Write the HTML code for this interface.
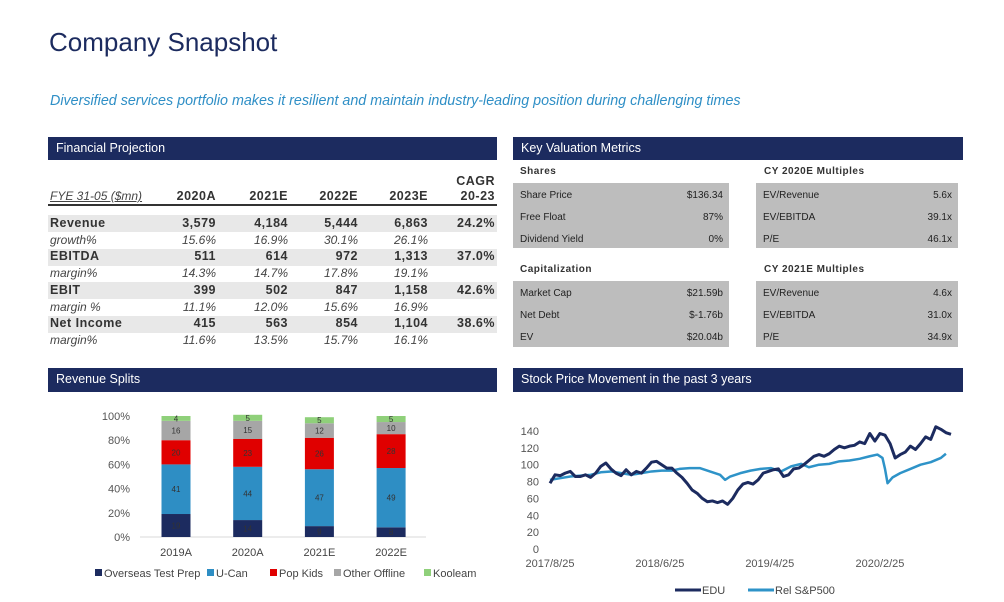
<!DOCTYPE html>
<html><head><meta charset="utf-8">
<style>
body{margin:0;width:1004px;height:602px;background:#fff;position:relative;overflow:hidden;font-family:"Liberation Sans",sans-serif;color:#333}
.a{position:absolute;white-space:nowrap}
.bar{position:absolute;background:#1c2b5f;color:#fff;font-size:12.5px;line-height:23px;padding-left:8px;box-sizing:border-box}
.r{text-align:right}
.gb{position:absolute;background:#e8e8e8}
.num{font-weight:bold;font-size:12.5px;letter-spacing:.5px}
.it{font-style:italic;font-size:12px;color:#444}
.vbox{position:absolute;background:#bdbdbd}
.vt{font-size:10px;color:#222}
</style></head><body>
<div class="a" style="left:49px;top:27px;font-size:26px;color:#1c2b5f">Company Snapshot</div>
<div class="a" style="left:50px;top:93px;font-size:14.3px;font-style:italic;color:#2f8fc6">Diversified services portfolio makes it resilient and maintain industry-leading position during challenging times</div>

<div class="bar" style="left:48px;top:137px;width:449px;height:23px">Financial Projection</div>
<div class="bar" style="left:513px;top:137px;width:450px;height:23px">Key Valuation Metrics</div>
<div class="bar" style="left:48px;top:368px;width:449px;height:24px">Revenue Splits</div>
<div class="bar" style="left:513px;top:368px;width:450px;height:24px">Stock Price Movement in the past 3 years</div>

<div>
<div class="gb" style="left:48px;top:215px;width:449px;height:17px"></div>
<div class="gb" style="left:48px;top:249px;width:449px;height:17px"></div>
<div class="gb" style="left:48px;top:282px;width:449px;height:17px"></div>
<div class="gb" style="left:48px;top:316px;width:449px;height:17px"></div>
<div class="a" style="left:48px;top:204px;width:449px;height:2px;background:#333"></div>
<div class="a it" style="left:50px;top:189px;text-decoration:underline;font-size:12px">FYE 31-05 ($mn)</div>
<div class="a num r" style="right:788px;top:189px">2020A</div>
<div class="a num r" style="right:716px;top:189px">2021E</div>
<div class="a num r" style="right:646px;top:189px">2022E</div>
<div class="a num r" style="right:576px;top:189px">2023E</div>
<div class="a num r" style="right:509px;top:174px;line-height:15px;text-align:right">CAGR<br>20-23</div>
</div>
<div id="rows"></div>

<div>
<div class="a num" style="left:520px;top:166px;font-size:10px">Shares</div>
<div class="a num" style="left:764px;top:166px;font-size:10px">CY 2020E Multiples</div>
<div class="a num" style="left:520px;top:264px;font-size:10px">Capitalization</div>
<div class="a num" style="left:764px;top:264px;font-size:10px">CY 2021E Multiples</div>
<div class="vbox" style="left:513px;top:183px;width:216px;height:65px"></div>
<div class="vbox" style="left:756px;top:183px;width:202px;height:65px"></div>
<div class="vbox" style="left:513px;top:281px;width:216px;height:66px"></div>
<div class="vbox" style="left:756px;top:281px;width:202px;height:66px"></div>
</div>
<div id="vals"></div>

<svg id="bars" width="1004" height="602" style="position:absolute;left:0;top:0" font-family="Liberation Sans, sans-serif"></svg>
<svg id="lines" width="1004" height="602" style="position:absolute;left:0;top:0" font-family="Liberation Sans, sans-serif"></svg>

<script>
// ---- table ----
const rowLabels=["Revenue","growth%","EBITDA","margin%","EBIT","margin %","Net Income","margin%"];
const rowVals=[["3,579","4,184","5,444","6,863","24.2%"],["15.6%","16.9%","30.1%","26.1%",""],["511","614","972","1,313","37.0%"],["14.3%","14.7%","17.8%","19.1%",""],["399","502","847","1,158","42.6%"],["11.1%","12.0%","15.6%","16.9%",""],["415","563","854","1,104","38.6%"],["11.6%","13.5%","15.7%","16.1%",""]];
const colRight=[216,288,358,428,495];
let rh='';
rowLabels.forEach((l,i)=>{
  const top=216+i*16.7, cls=i%2?'it':'num';
  rh+=`<div class="a ${cls}" style="left:50px;top:${top}px">${l}</div>`;
  rowVals[i].forEach((v,j)=>{ if(v) rh+=`<div class="a ${cls} r" style="right:${1004-colRight[j]}px;top:${top}px">${v}</div>`;});
});
document.getElementById('rows').innerHTML=rh;
// ---- valuation ----
const valBlocks=[[520,723,183,[["Share Price","$136.34"],["Free Float","87%"],["Dividend Yield","0%"]]],[763,952,183,[["EV/Revenue","5.6x"],["EV/EBITDA","39.1x"],["P/E","46.1x"]]],[520,723,281,[["Market Cap","$21.59b"],["Net Debt","$-1.76b"],["EV","$20.04b"]]],[763,952,281,[["EV/Revenue","4.6x"],["EV/EBITDA","31.0x"],["P/E","34.9x"]]]];
let vh='';
valBlocks.forEach(b=>b[3].forEach((r,i)=>{const t=b[2]+7+i*22;
 vh+=`<div class="a vt" style="left:${b[0]}px;top:${t}px">${r[0]}</div><div class="a vt r" style="right:${1004-b[1]}px;top:${t}px">${r[1]}</div>`;}));
document.getElementById('vals').innerHTML=vh;

// ---- bar chart ----
const categories=["2019A","2020A","2021E","2022E"];
const seriesNames=["Overseas Test Prep","U-Can","Pop Kids","Other Offline","Kooleam"];
const overseas=[19,14,9,8];
const ucan=[41,44,47,49];
const popkids=[20,23,26,28];
const other=[16,15,12,10];
const kooleam=[4,5,5,5];
const yTicks=["0%","20%","40%","60%","80%","100%"];
const colors=["#1c2b5f","#2e8ec4","#e00000","#a6a6a6","#8fd07a"];
const NS='http://www.w3.org/2000/svg';
function mk(p,t,a){const e=document.createElementNS(NS,t);for(const k in a)e.setAttribute(k,a[k]);p.appendChild(e);return e;}
const bs=document.getElementById('bars');
const by=v=>537-v*1.21, bx=i=>176+i*71.7;
yTicks.forEach((t,i)=>{const e=mk(bs,'text',{x:130,y:by(i*20)+4,'text-anchor':'end','font-size':11,fill:'#555'});e.textContent=t;

});
mk(bs,'line',{x1:140,x2:426,y1:537,y2:537,stroke:'#d9d9d9'});
const allS=[overseas,ucan,popkids,other,kooleam];
categories.forEach((c,i)=>{
  let cum=0;
  allS.forEach((s,k)=>{
    const r=mk(bs,'rect',{x:bx(i)-14.5,y:by(cum+s[i]),width:29,height:s[i]*1.21,fill:colors[k]});
    
    
    const t=mk(bs,'text',{x:bx(i),y:by(cum+s[i]/2)+3,'text-anchor':'middle','font-size':8,fill:'#333'});t.textContent=s[i];
    
    
    cum+=s[i];
  });
  const t=mk(bs,'text',{x:bx(i),y:556,'text-anchor':'middle','font-size':11,fill:'#444'});t.textContent=c;
  
  
});
const legX=[95,207,270,334,424];
seriesNames.forEach((n,i)=>{const g=mk(bs,'g',{});
 
 
 mk(g,'rect',{x:legX[i],y:569,width:7,height:7,fill:colors[i]});
 const t=mk(g,'text',{x:legX[i]+9,y:577,'font-size':11,fill:'#444'});t.textContent=n;});

// ---- line chart ----
const eduWeeks=Array.from({length:80},(_,i)=>i*2);
const eduPrice=[78,88,87,90,92,86,86,88,85,90,98,102,95,90,87,94,88,92,90,96,103,104,100,96,96,90,85,78,70,66,60,56,57,55,57,53,60,70,77,79,77,82,90,92,94,95,86,88,95,96,100,105,110,112,110,113,118,122,120,122,123,127,125,137,128,137,135,125,108,112,115,122,118,125,133,130,145,142,138,136];
const spWeeks=[0,4,8,12,16,20,24,28,32,36,40,44,48,51,55,59,63,67,69,71,75,79,83,87,91,95,99,102,106,110,114,118,122,126,129,131,132,133,135,138,142,146,150,154,156];
const spRel=[82,84,86,87,88,91,92,90,88,90,92,93,93,95,96,96,92,88,82,86,90,93,95,96,92,98,101,97,100,101,104,105,107,110,112,108,95,78,85,90,95,100,103,108,113];
const lyTicks=[0,20,40,60,80,100,120,140];
const lxTicks=["2017/8/25","2018/6/25","2019/4/25","2020/2/25"];
const lxTickWeeks=[0,43.3,86.6,130];
const ls=document.getElementById('lines');
const lx=w=>550+w*2.538, ly=v=>549-v*0.843;
lyTicks.forEach(v=>{const t=mk(ls,'text',{x:539,y:ly(v)+4,'text-anchor':'end','font-size':11,fill:'#555'});t.textContent=v;
 
 });
lxTicks.forEach((s,i)=>{const t=mk(ls,'text',{x:lx(lxTickWeeks[i]),y:567,'text-anchor':'middle','font-size':11,fill:'#555'});t.textContent=s;
 
 });
const sp=mk(ls,'polyline',{points:spWeeks.map((w,i)=>lx(w)+','+ly(spRel[i])).join(' '),fill:'none',stroke:'#2e93c8','stroke-width':2.5,'stroke-linejoin':'round'});


const edu=mk(ls,'polyline',{points:eduWeeks.map((w,i)=>lx(w)+','+ly(eduPrice[i])).join(' '),fill:'none',stroke:'#1c2b5f','stroke-width':3,'stroke-linejoin':'round'});


[[675,'#1c2b5f','EDU'],[748,'#2e93c8','Rel S&P500']].forEach(l=>{const g=mk(ls,'g',{});
 
 
 mk(g,'line',{x1:l[0],x2:l[0]+26,y1:590,y2:590,stroke:l[1],'stroke-width':3});
 const t=mk(g,'text',{x:l[0]+27,y:594,'font-size':11,fill:'#444'});t.textContent=l[2];});
</script>
</body></html>
